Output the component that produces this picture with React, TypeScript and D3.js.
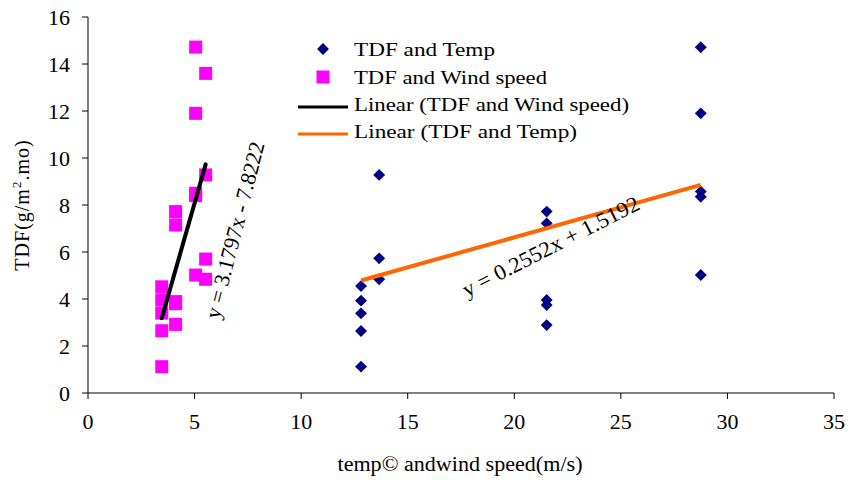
import React from "react";
import * as d3 from "d3";

const tempX = [12.81, 12.81, 12.81, 12.81, 12.81, 13.66, 13.66, 13.66, 21.52, 21.52, 21.52, 21.52, 21.52, 28.75, 28.75, 28.75, 28.75, 28.75];
const tempY = [4.55, 3.93, 3.39, 2.64, 1.12, 9.28, 5.73, 4.84, 7.72, 7.22, 3.96, 3.74, 2.89, 14.71, 11.9, 8.57, 8.35, 5.02];

const windX = [3.46, 3.46, 3.46, 3.46, 3.46, 4.11, 4.11, 4.11, 4.11, 4.11, 5.05, 5.05, 5.05, 5.05, 5.05, 5.52, 5.52, 5.52, 5.52];
const windY = [4.52, 3.96, 3.4, 2.65, 1.12, 7.72, 7.15, 3.89, 3.8, 2.92, 14.72, 11.9, 8.5, 8.4, 5.02, 13.6, 9.28, 5.7, 4.84];

const tempFit = { slope: 0.2552, intercept: 1.5192 };
const windFit = { slope: 3.1797, intercept: -7.8222 };

const xTicks = [0, 5, 10, 15, 20, 25, 30, 35];
const yTicks = [0, 2, 4, 6, 8, 10, 12, 14, 16];

const legendItems = ["TDF and Temp", "TDF and Wind speed", "Linear (TDF and Wind speed)", "Linear (TDF and Temp)"];
const legendWidths = [141, 193, 275, 223];

const FONT = "'Liberation Serif', 'Times New Roman', serif";

export default function App() {
  const W = 848, H = 480;
  const x = d3.scaleLinear().domain([0, 35]).range([88, 834]);
  const y = d3.scaleLinear().domain([0, 16]).range([393, 17]);
  const line = d3.line<[number, number]>().x(d => x(d[0])).y(d => y(d[1]));

  const tMin = d3.min(tempX)!, tMax = d3.max(tempX)!;
  const wMin = d3.min(windX)!, wMax = d3.max(windX)!;
  const tLine: [number, number][] = [[tMin, tempFit.slope * tMin + tempFit.intercept], [tMax, tempFit.slope * tMax + tempFit.intercept]];
  const wLine: [number, number][] = [[wMin, windFit.slope * wMin + windFit.intercept], [wMax, windFit.slope * wMax + windFit.intercept]];

  const diamond = d3.symbol().type(d3.symbolDiamond2).size(90)();
  const sq = 13;
  const legendY = [49, 77, 104, 131];

  return (
    <svg width={W} height={H} style={{ position: "absolute", left: 0, top: 0, fontFamily: FONT }}>
      <rect width={W} height={H} fill="#fff" />
      {/* axes */}
      <line x1={x(0)} x2={x(35)} y1={y(0)} y2={y(0)} stroke="#000" strokeWidth={1} />
      <line x1={x(0)} x2={x(0)} y1={y(0)} y2={y(16)} stroke="#000" strokeWidth={1} />
      {yTicks.map(t => (
        <g key={"y" + t}>
          <line x1={x(0) - 6} x2={x(0)} y1={y(t)} y2={y(t)} stroke="#000" />
          <text x={x(0) - 18} y={y(t)} dy="0.35em" textAnchor="end" fontSize={22}>{t}</text>
        </g>
      ))}
      {xTicks.map(t => (
        <g key={"x" + t}>
          <line x1={x(t)} x2={x(t)} y1={y(0)} y2={y(0) + 6} stroke="#000" />
          <text x={Math.min(x(t), 835)} y={y(0) + 28} dy="0.35em" textAnchor="middle" fontSize={22}>{t}</text>
        </g>
      ))}
      <text x={460} y={471} textAnchor="middle" fontSize={20} textLength={245} lengthAdjust="spacingAndGlyphs">temp© andwind speed(m/s)</text>
      <text transform={`translate(29,205) rotate(-90)`} textAnchor="middle" fontSize={20} letterSpacing={1}>
        TDF(g/m<tspan dy={-8} fontSize={13}>2</tspan><tspan dy={8}>.mo)</tspan>
      </text>

      {/* points */}
      {windX.map((v, i) => (
        <rect key={"w" + i} x={x(v) - sq / 2} y={y(windY[i]) - sq / 2} width={sq} height={sq} fill="#FF00FF" />
      ))}
      {tempX.map((v, i) => (
        <path key={"t" + i} d={diamond!} transform={`translate(${x(v)},${y(tempY[i])})`} fill="#000080" />
      ))}

      {/* trend lines */}
      <path d={line(wLine)!} stroke="#000" strokeWidth={4} fill="none" strokeLinecap="round" />
      <path d={line(tLine)!} stroke="#FF6600" strokeWidth={4} fill="none" />

      {/* equations */}
      <text transform={`translate(242,232) rotate(-75.5)`} textAnchor="middle" fontSize={22} textLength={182} lengthAdjust="spacingAndGlyphs">y = 3.1797x - 7.8222</text>
      <text transform={`translate(554,253) rotate(-27)`} textAnchor="middle" fontSize={22} textLength={196} lengthAdjust="spacingAndGlyphs">y = 0.2552x + 1.5192</text>

      {/* legend */}
      <g fontSize={19}>
        <path d={diamond!} transform={`translate(323,${legendY[0]})`} fill="#000080" />
        <rect x={323 - sq / 2} y={legendY[1] - sq / 2} width={sq} height={sq} fill="#FF00FF" />
        <line x1={298} x2={348} y1={legendY[2] + 3} y2={legendY[2] + 3} stroke="#000" strokeWidth={3} />
        <line x1={298} x2={348} y1={legendY[3] + 3} y2={legendY[3] + 3} stroke="#FF6600" strokeWidth={3} />
        {legendItems.map((s, i) => (
          <text key={s} x={354} y={legendY[i]} dy="0.35em" textLength={legendWidths[i]} lengthAdjust="spacingAndGlyphs">{s}</text>
        ))}
      </g>
    </svg>
  );
}
